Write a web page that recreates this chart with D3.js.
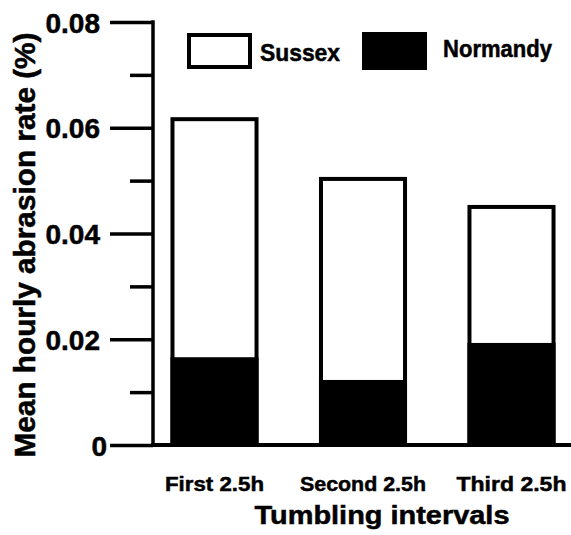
<!DOCTYPE html>
<html>
<head>
<meta charset="utf-8">
<script src="https://cdn.jsdelivr.net/npm/d3@7"></script>
<style>
  html, body { margin: 0; padding: 0; background: #fff; }
  svg { display: block; }
  text { font-family: "Liberation Sans", Arial, sans-serif; font-weight: bold; fill: #000; stroke: #000; stroke-width: 0.5px; }
</style>
</head>
<body>
<svg id="chart" width="571" height="535"></svg>
<script>
// Tumbling intervals and mean hourly abrasion rate (%) per stone source
const categories = ["First 2.5h", "Second 2.5h", "Third 2.5h"];
const sussex = [0.062, 0.0507, 0.0454];
const normandy = [0.0166, 0.0123, 0.0193];
const seriesNames = ["Sussex", "Normandy"];
const majorTicks = [0, 0.02, 0.04, 0.06, 0.08];
const majorTickLabels = ["0", "0.02", "0.04", "0.06", "0.08"];
const minorTicks = [0.01, 0.03, 0.05, 0.07];

const svg = d3.select("#chart");
const axisX = 153, baseY = 445;

const y = d3.scaleLinear().domain([0, 0.08]).range([baseY, 22]);
const x = d3.scaleBand().domain(categories).range([158, 568])
  .paddingInner(0.407).paddingOuter(0.084);

// Minor ticks (unlabelled)
const minorAxis = svg.append("g").attr("transform", `translate(${axisX},0)`)
  .call(d3.axisLeft(y).tickValues(minorTicks).tickSize(23).tickFormat(""));
minorAxis.select(".domain").remove();
minorAxis.selectAll("line").attr("stroke", "#000").attr("stroke-width", 3.5);

// Major ticks with labels
const majorAxis = svg.append("g").attr("transform", `translate(${axisX},0)`)
  .call(d3.axisLeft(y).tickValues(majorTicks).tickSize(43).tickPadding(10)
    .tickFormat((d, i) => majorTickLabels[i]));
majorAxis.select(".domain").remove();
majorAxis.selectAll("line").attr("stroke", "#000").attr("stroke-width", 3.5);
majorAxis.selectAll("text")
  .style("font-family", "'Liberation Sans', Arial, sans-serif")
  .style("font-weight", "bold")
  .attr("font-size", 28)
  .attr("fill", "#000")
  .attr("stroke", "#000").attr("stroke-width", 0.5)
  .attr("dy", "0.36em")
  .attr("dx", (d) => d === 0 ? 7 : 0);

// Bars: Sussex outline behind, Normandy solid in front
const bars = svg.append("g");
bars.selectAll("rect.sussex").data(categories).join("rect")
  .attr("class", "sussex")
  .attr("x", (d) => x(d) + 2)
  .attr("width", x.bandwidth() - 4)
  .attr("y", (d, i) => y(sussex[i]) + 2)
  .attr("height", (d, i) => baseY - y(sussex[i]) - 2)
  .attr("fill", "#fff").attr("stroke", "#000").attr("stroke-width", 4);
bars.selectAll("rect.normandy").data(categories).join("rect")
  .attr("class", "normandy")
  .attr("x", (d) => x(d))
  .attr("width", x.bandwidth())
  .attr("y", (d, i) => y(normandy[i]))
  .attr("height", (d, i) => baseY - y(normandy[i]))
  .attr("fill", "#000");

// Axis lines
svg.append("line").attr("x1", axisX).attr("x2", axisX)
  .attr("y1", y(0.08) - 1.75).attr("y2", baseY + 2)
  .attr("stroke", "#000").attr("stroke-width", 3.5);
svg.append("line").attr("x1", axisX - 1.75).attr("x2", 571)
  .attr("y1", baseY).attr("y2", baseY)
  .attr("stroke", "#000").attr("stroke-width", 4);

// Category labels
svg.append("g").selectAll("text").data(categories).join("text")
  .attr("x", (d) => x(d) + x.bandwidth() / 2)
  .attr("y", 491)
  .attr("text-anchor", "middle")
  .attr("font-size", 21)
  .attr("textLength", (d, i) => [99, 126, 110][i])
  .attr("lengthAdjust", "spacingAndGlyphs")
  .text((d) => d);

// Axis titles
svg.append("text")
  .attr("x", 382).attr("y", 524)
  .attr("text-anchor", "middle")
  .attr("font-size", 26)
  .attr("textLength", 255).attr("lengthAdjust", "spacingAndGlyphs")
  .text("Tumbling intervals");

svg.append("text")
  .attr("transform", "translate(35,245) rotate(-90)")
  .attr("text-anchor", "middle")
  .attr("font-size", 29)
  .attr("textLength", 425).attr("lengthAdjust", "spacingAndGlyphs")
  .text("Mean hourly abrasion rate (%)");

// Legend
const legend = svg.append("g");
legend.append("rect").attr("x", 189).attr("y", 35).attr("width", 61).attr("height", 32)
  .attr("fill", "#fff").attr("stroke", "#000").attr("stroke-width", 4);
legend.append("text").attr("x", 260).attr("y", 61)
  .attr("font-size", 24).attr("textLength", 80).attr("lengthAdjust", "spacingAndGlyphs")
  .text(seriesNames[0]);
legend.append("rect").attr("x", 362).attr("y", 32).attr("width", 65).attr("height", 38)
  .attr("fill", "#000");
legend.append("text").attr("x", 443).attr("y", 57)
  .attr("font-size", 24).attr("textLength", 109).attr("lengthAdjust", "spacingAndGlyphs")
  .text(seriesNames[1]);
</script>
</body>
</html>
